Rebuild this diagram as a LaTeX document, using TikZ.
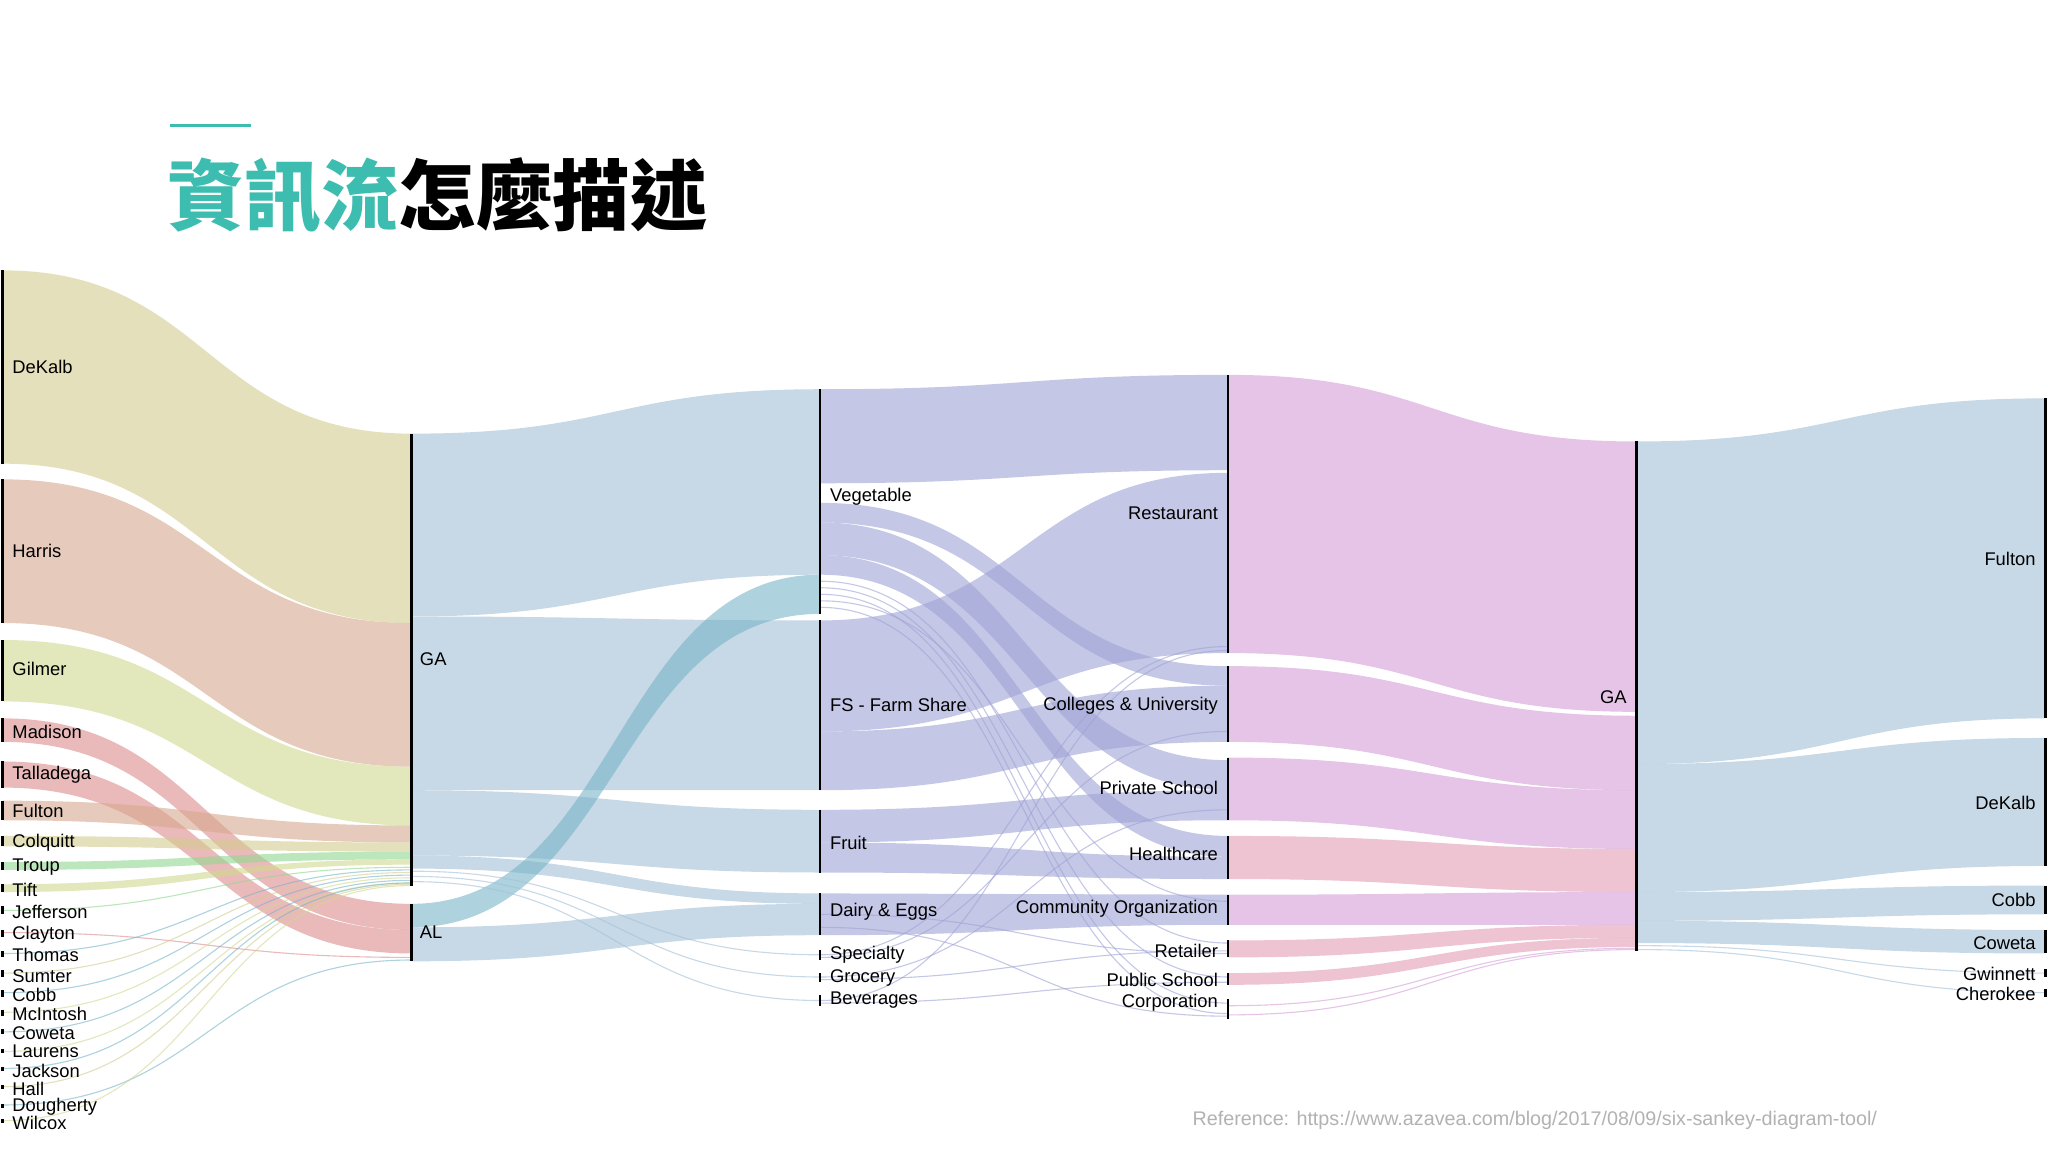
\documentclass[tikz,border=0pt]{standalone}
\usepackage{fontspec}
\setmainfont{Liberation Sans}
\newfontfamily\cjk{Noto Sans CJK TC}
\definecolor{teal1}{HTML}{3DBDB0}
\definecolor{khaki}{HTML}{D2CC8E}
\definecolor{salm}{HTML}{D6A88E}
\definecolor{yg}{HTML}{CFD98E}
\definecolor{redp}{HTML}{DC8C8C}
\definecolor{grn}{HTML}{90D890}
\definecolor{blu}{HTML}{A3C1D8}
\definecolor{tealb}{HTML}{78B4C8}
\definecolor{vio}{HTML}{9FA3D6}
\definecolor{pnk}{HTML}{D49ED8}
\definecolor{pkr}{HTML}{E39CB4}
\newcommand\flow[7]{\fill[#1,opacity=.6] (#2,#3) .. controls ({(#2+#5)/2},#3) and ({(#2+#5)/2},#6) .. (#5,#6) -- (#5,#7) .. controls ({(#2+#5)/2},#7) and ({(#2+#5)/2},#4) .. (#2,#4) -- cycle;}
\newcommand\thin[5]{\draw[#1,opacity=.6,line width=1.2pt] (#2,#3) .. controls ({(#2+#4)/2},#3) and ({(#2+#4)/2},#5) .. (#4,#5);}
\tikzset{bar/.style={line width=2.5pt,black},
 lr/.style={anchor=west,font=\fontsize{20}{20}\selectfont,inner sep=2pt},
 ll/.style={anchor=east,font=\fontsize{20}{20}\selectfont,inner sep=2pt}}
\begin{document}
\begin{tikzpicture}[x=0.05cm,y=-0.05cm]
\useasboundingbox (0,0) rectangle (1568,882);
\fill[white] (0,0) rectangle (1568,882);
% title
\draw[teal1,line width=3.5pt] (130,96) -- (192,96);
\node[anchor=base west,inner sep=0,font=\cjk\bfseries\fontsize{84}{84}\selectfont] (title) at (128,172) {\textcolor{teal1}{資訊流}怎麼描述};
% col1 -> col2
\flow{khaki}{2}{207}{355}{315}{332}{477}
\flow{salm}{2}{367}{477}{315}{477}{587}
\flow{yg}{2}{490}{537}{315}{587}{632}
\flow{redp}{2}{550}{568}{315}{692}{712}
\flow{redp}{2}{583}{603}{315}{712}{730}
\flow{salm}{2}{613}{628}{315}{632}{645}
\flow{khaki}{2}{640}{648}{315}{645}{652}
\flow{grn}{2}{660}{666}{315}{652}{658}
\flow{yg}{2}{677}{683}{315}{658}{662}
\thin{grn}{2}{697}{315}{664}
\thin{redp}{2}{714}{315}{733}
\thin{tealb}{2}{730}{315}{666}
\thin{khaki}{2}{745}{315}{668}
\thin{tealb}{2}{760}{315}{670}
\thin{yg}{2}{775}{315}{672}
\thin{tealb}{2}{790}{315}{674}
\thin{yg}{2}{805}{315}{676}
\thin{tealb}{2}{818}{315}{676}
\thin{khaki}{2}{832}{315}{677}
\thin{tealb}{2}{846}{315}{735}
\thin{yg}{2}{858}{315}{678}
% col2 -> col3
\flow{blu}{315}{332}{472}{628}{298}{440}
\flow{blu}{315}{472}{605}{628}{475}{605}
\flow{blu}{315}{605}{655}{628}{620}{668}
\flow{blu}{315}{655}{665}{628}{684}{692}
\flow{tealb}{315}{692}{710}{628}{440}{470}
\flow{blu}{315}{710}{736}{628}{692}{716}
\thin{blu}{315}{667}{628}{731}
\thin{blu}{315}{671}{628}{748}
\thin{blu}{315}{675}{628}{766}
% col3 -> col4
\flow{vio}{628}{298}{370}{940}{287}{360}
\flow{vio}{628}{385}{400}{940}{510}{525}
\flow{vio}{628}{400}{425}{940}{582}{605}
\flow{vio}{628}{425}{440}{940}{640}{656}
\flow{vio}{628}{475}{560}{940}{362}{500}
\flow{vio}{628}{560}{605}{940}{525}{568}
\flow{vio}{628}{620}{645}{940}{605}{628}
\flow{vio}{628}{645}{668}{940}{656}{673}
\flow{vio}{628}{684}{716}{940}{685}{708}
\thin{vio}{628}{445}{940}{722}
\thin{vio}{628}{450}{940}{748}
\thin{vio}{628}{455}{940}{768}
\thin{vio}{628}{460}{940}{690}
\thin{vio}{628}{465}{940}{776}
\thin{vio}{628}{731}{940}{495}
\thin{vio}{628}{733}{940}{560}
\thin{vio}{628}{748}{940}{620}
\thin{vio}{628}{750}{940}{728}
\thin{vio}{628}{766}{940}{498}
\thin{vio}{628}{768}{940}{752}
\thin{vio}{628}{700}{940}{730}
\thin{vio}{628}{710}{940}{778}
% col4 -> col5
\flow{pnk}{940}{287}{500}{1253}{338}{545}
\flow{pnk}{940}{510}{568}{1253}{548}{605}
\flow{pnk}{940}{580}{628}{1253}{605}{650}
\flow{pkr}{940}{640}{673}{1253}{650}{683}
\flow{pnk}{940}{685}{708}{1253}{683}{708}
\flow{pkr}{940}{720}{733}{1253}{708}{718}
\flow{pkr}{940}{745}{754}{1253}{718}{725}
\thin{pnk}{940}{770}{1253}{726}
\thin{pnk}{940}{777}{1253}{727}
% col5 -> col6
\flow{blu}{1253}{338}{585}{1565}{305}{550}
\flow{blu}{1253}{585}{683}{1565}{565}{663}
\flow{blu}{1253}{683}{705}{1565}{678}{700}
\flow{blu}{1253}{705}{722}{1565}{712}{730}
\thin{blu}{1253}{724}{1565}{745}
\thin{blu}{1253}{727}{1565}{760}
% bars
\foreach \a/\b in {207/355,367/477,490/537,550/568,583/603,613/628,640/648,660/666,677/683,694/700,712/717,728/733,743/748,758/763,773/778,788/792,803/806,817/820,831/834,845/848,857/860}
  \draw[bar] (2,\a) -- (2,\b);
\foreach \a/\b in {332/678,692/736} \draw[bar] (315,\a) -- (315,\b);
\foreach \a/\b in {298/470,475/605,620/668,684/716,727/735,745/752,762/770} \draw[bar] (628,\a) -- (628,\b);
\foreach \a/\b in {287/500,510/568,580/628,640/673,685/708,720/733,745/754,765/780} \draw[bar] (940,\a) -- (940,\b);
\draw[bar] (1253,338) -- (1253,728);
\foreach \a/\b in {305/550,565/663,678/700,712/730,742/748,757/763} \draw[bar] (1566,\a) -- (1566,\b);
% labels col1
\foreach \t/\y in {DeKalb/281,Harris/422,Gilmer/512,Madison/560,Talladega/593,Fulton/621,Colquitt/645,Troup/664,Tift/681,Jefferson/698,Clayton/716,Thomas/731,Sumter/747,Cobb/762,McIntosh/776,Coweta/791,Laurens/805,Jackson/820,Hall/834,Dougherty/847,Wilcox/860}
  \node[lr] (s\t) at (8,\y) {\t};
\node[lr] (ga1) at (320,505) {GA};
\node[lr] (al1) at (320,714) {AL};
\node[lr] (veg) at (634,380) {Vegetable};
\node[lr] (fs) at (634,540) {FS - Farm Share};
\node[lr] (fru) at (634,645) {Fruit};
\node[lr] (dai) at (634,698) {Dairy \& Eggs};
\node[lr] (spe) at (634,731) {Specialty};
\node[lr] (gro) at (634,749) {Grocery};
\node[lr] (bev) at (634,766) {Beverages};
\node[ll] (res) at (934,393) {Restaurant};
\node[ll] (col) at (934,540) {Colleges \& University};
\node[ll] (pri) at (934,603) {Private School};
\node[ll] (hea) at (934,654) {Healthcare};
\node[ll] (com) at (934,696) {Community Organization};
\node[ll] (ret) at (934,728) {Retailer};
\node[ll] (pub) at (934,750) {Public School};
\node[ll] (cor) at (934,768) {Corporation};
\node[ll] (ga2) at (1247,534) {GA};
\node[ll] (ful) at (1560,428) {Fulton};
\node[ll] (dek) at (1560,615) {DeKalb};
\node[ll] (cob) at (1560,689) {Cobb};
\node[ll] (cow) at (1560,722) {Coweta};
\node[ll] (gwi) at (1560,746) {Gwinnett};
\node[ll] (che) at (1560,761) {Cherokee};
\node[anchor=west,inner sep=0,text=black!30,font=\fontsize{21.5}{21.5}\selectfont] (refn) at (913,858) {Reference: https://www.azavea.com/blog/2017/08/09/six-sankey-diagram-tool/};
\end{tikzpicture}
\end{document}
